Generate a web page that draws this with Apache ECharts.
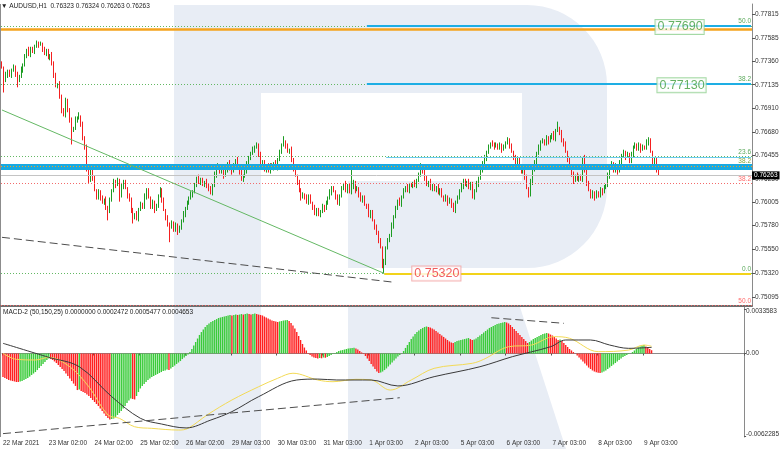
<!DOCTYPE html>
<html><head><meta charset="utf-8">
<script src="https://cdn.jsdelivr.net/npm/echarts@6/dist/echarts.min.js"></script>
<style>html,body{margin:0;padding:0;background:#fff;overflow:hidden}#c{width:782px;height:449px}</style>
</head><body><div id="c"></div>
<script>
// ---------- DATA ----------
const xLabels = ['22 Mar 2021','23 Mar 02:00','24 Mar 02:00','25 Mar 02:00','26 Mar 02:00','29 Mar 03:00','30 Mar 03:00','31 Mar 03:00','1 Apr 03:00','2 Apr 03:00','5 Apr 03:00','6 Apr 03:00','7 Apr 03:00','8 Apr 03:00','9 Apr 03:00'];
const priceTicks = ['0.77815','0.77585','0.77360','0.77135','0.76910','0.76680','0.76455','0.76230','0.76005','0.75780','0.75550','0.75320','0.75095'];
const macdTicks = ['0.0033583','0.00','-0.0062285'];
const titleMain = '\u25BC AUDUSD,H1  0.76323 0.76324 0.76263 0.76263';
const titleMacd = 'MACD-2 (50,150,25) 0.0000000 0.0002472 0.0005477 0.0004653';
// H1 candles, price in pips (price x 10000): [open, close, low, high]
const candlesPips = [
[7734,7730,7729,7736],[7730,7718,7706,7731],[7718,7723,7716,7726],[7723,7726,7720,7728],[7726,7722,7721,7728],[7722,7728,7720,7729],[7728,7730,7726,7733],[7730,7724,7721,7732],[7724,7718,7711,7726],[7718,7722,7716,7723],
[7722,7728,7720,7731],[7728,7732,7725,7734],[7732,7741,7731,7743],[7741,7747,7739,7748],[7747,7743,7741,7750],[7743,7748,7740,7750],[7748,7745,7744,7750],[7745,7751,7743,7752],[7751,7754,7749,7756],[7754,7752,7749,7755],
[7752,7753,7751,7755],[7753,7747,7745,7754],[7747,7744,7742,7750],[7744,7746,7741,7748],[7746,7739,7738,7748],[7739,7742,7737,7743],[7742,7734,7732,7745],[7734,7723,7720,7736],[7723,7712,7711,7725],[7712,7714,7710,7715],
[7714,7702,7700,7717],[7702,7689,7686,7704],[7689,7684,7683,7691],[7684,7697,7682,7701],[7697,7689,7687,7700],[7689,7680,7677,7691],[7680,7670,7656,7682],[7670,7672,7668,7673],[7672,7680,7670,7683],[7680,7681,7677,7683],
[7681,7683,7680,7687],[7683,7675,7673,7684],[7675,7662,7660,7678],[7662,7654,7651,7664],[7654,7631,7630,7656],[7631,7622,7619,7632],[7622,7631,7620,7636],[7631,7624,7621,7633],[7624,7612,7611,7626],[7612,7605,7603,7613],
[7605,7610,7603,7613],[7610,7605,7602,7612],[7605,7600,7599,7607],[7600,7603,7598,7604],[7603,7595,7593,7606],[7595,7591,7583,7597],[7591,7603,7590,7605],[7603,7612,7601,7613],[7612,7620,7610,7623],[7620,7617,7614,7622],
[7617,7622,7616,7624],[7622,7607,7601,7623],[7607,7616,7605,7619],[7616,7620,7613,7622],[7620,7614,7613,7622],[7614,7606,7604,7615],[7606,7603,7601,7609],[7603,7593,7590,7605],[7593,7586,7580,7595],[7586,7589,7584,7590],
[7589,7585,7583,7592],[7585,7593,7582,7595],[7593,7599,7592,7601],[7599,7596,7594,7600],[7596,7606,7594,7609],[7606,7612,7603,7614],[7612,7605,7604,7614],[7605,7596,7594,7606],[7596,7600,7594,7603],[7600,7593,7590,7602],
[7593,7597,7592,7599],[7597,7607,7595,7608],[7607,7612,7605,7615],[7612,7603,7600,7614],[7603,7593,7592,7605],[7593,7585,7583,7594],[7585,7579,7577,7588],[7579,7576,7562,7581],[7576,7581,7575,7583],[7581,7574,7572,7582],
[7574,7578,7572,7581],[7578,7572,7569,7580],[7572,7576,7571,7578],[7576,7583,7574,7584],[7583,7589,7581,7592],[7589,7594,7586,7596],[7594,7600,7593,7602],[7600,7605,7598,7606],[7605,7608,7603,7611],[7608,7610,7605,7612],
[7610,7617,7609,7619],[7617,7624,7615,7625],[7624,7620,7618,7627],[7620,7622,7617,7624],[7622,7617,7616,7624],[7617,7620,7615,7621],[7620,7616,7614,7623],[7616,7614,7611,7618],[7614,7609,7608,7616],[7609,7617,7607,7618],
[7617,7627,7615,7630],[7627,7633,7624,7635],[7633,7636,7632,7638],[7636,7630,7628,7637],[7630,7633,7628,7636],[7633,7626,7623,7635],[7626,7631,7625,7633],[7631,7638,7629,7639],[7638,7633,7631,7641],[7633,7630,7627,7635],
[7630,7636,7629,7638],[7636,7641,7634,7642],[7641,7635,7633,7644],[7635,7630,7627,7637],[7630,7622,7621,7632],[7622,7626,7620,7627],[7626,7631,7624,7634],[7631,7638,7628,7640],[7638,7643,7637,7645],[7643,7648,7641,7649],
[7648,7651,7646,7654],[7651,7653,7648,7655],[7653,7656,7652,7658],[7656,7646,7644,7657],[7646,7636,7634,7649],[7636,7639,7633,7641],[7639,7631,7630,7641],[7631,7635,7629,7636],[7635,7631,7629,7638],[7631,7636,7628,7638],
[7636,7633,7632,7638],[7633,7638,7631,7639],[7638,7634,7632,7641],[7634,7641,7631,7643],[7641,7649,7640,7651],[7649,7656,7647,7657],[7656,7658,7654,7664],[7658,7655,7652,7660],[7655,7649,7648,7657],[7649,7651,7647,7652],
[7651,7641,7639,7654],[7641,7633,7630,7643],[7633,7626,7625,7635],[7626,7619,7617,7627],[7619,7612,7610,7622],[7612,7605,7602,7614],[7605,7608,7604,7610],[7608,7605,7603,7609],[7605,7601,7599,7608],[7601,7606,7598,7608],
[7606,7600,7599,7608],[7600,7595,7593,7601],[7595,7590,7588,7598],[7590,7593,7587,7595],[7593,7588,7587,7595],[7588,7592,7586,7593],[7592,7596,7590,7599],[7596,7594,7591,7598],[7594,7600,7593,7602],[7600,7605,7598,7606],
[7605,7610,7603,7613],[7610,7614,7607,7616],[7614,7611,7610,7616],[7611,7605,7603,7612],[7605,7600,7598,7608],[7600,7606,7597,7608],[7606,7614,7605,7616],[7614,7618,7612,7619],[7618,7612,7610,7621],[7612,7616,7609,7618],
[7616,7610,7609,7618],[7610,7615,7608,7636],[7615,7619,7613,7622],[7619,7612,7609,7621],[7612,7614,7611,7616],[7614,7607,7605,7615],[7607,7603,7601,7610],[7603,7605,7600,7607],[7605,7598,7597,7607],[7598,7596,7594,7599],
[7596,7588,7586,7599],[7588,7591,7585,7593],[7591,7583,7582,7593],[7583,7576,7574,7584],[7576,7571,7569,7579],[7571,7564,7561,7573],[7564,7557,7556,7566],[7557,7541,7537,7558],[7541,7543,7532,7546],[7543,7556,7540,7558],
[7556,7564,7555,7566],[7564,7569,7562,7570],[7569,7578,7567,7581],[7578,7586,7575,7588],[7586,7595,7585,7597],[7595,7602,7593,7603],[7602,7599,7597,7605],[7599,7605,7596,7607],[7605,7612,7604,7614],[7612,7615,7610,7616],
[7615,7612,7610,7618],[7612,7617,7609,7619],[7617,7616,7615,7619],[7616,7619,7614,7620],[7619,7617,7615,7622],[7617,7621,7614,7623],[7621,7627,7620,7629],[7627,7633,7625,7638],[7633,7630,7628,7636],[7630,7624,7621,7632],
[7624,7617,7616,7626],[7617,7620,7615,7621],[7620,7614,7612,7623],[7614,7616,7611,7618],[7616,7612,7611,7618],[7612,7615,7610,7616],[7615,7610,7608,7618],[7610,7612,7607,7614],[7612,7606,7605,7614],[7606,7603,7601,7607],
[7603,7605,7601,7608],[7605,7600,7597,7607],[7600,7603,7599,7605],[7603,7597,7595,7604],[7597,7593,7591,7600],[7593,7600,7590,7602],[7600,7605,7599,7607],[7605,7612,7603,7613],[7612,7616,7610,7619],[7616,7621,7613,7623],
[7621,7617,7616,7623],[7617,7620,7615,7621],[7620,7615,7613,7623],[7615,7618,7612,7620],[7618,7605,7604,7620],[7605,7612,7603,7613],[7612,7618,7610,7621],[7618,7623,7615,7625],[7623,7631,7622,7633],[7631,7639,7629,7640],
[7639,7643,7637,7646],[7643,7648,7640,7650],[7648,7654,7647,7656],[7654,7657,7652,7658],[7657,7656,7654,7660],[7656,7654,7651,7658],[7654,7656,7653,7658],[7656,7653,7651,7657],[7653,7655,7651,7658],[7655,7651,7648,7657],
[7651,7654,7650,7656],[7654,7658,7652,7659],[7658,7660,7656,7663],[7660,7655,7652,7662],[7655,7649,7648,7657],[7649,7643,7641,7650],[7643,7638,7636,7646],[7638,7641,7635,7643],[7641,7633,7632,7643],[7633,7630,7628,7634],
[7630,7633,7628,7636],[7633,7625,7622,7635],[7625,7614,7613,7627],[7614,7608,7605,7615],[7608,7620,7606,7623],[7620,7631,7617,7633],[7631,7639,7630,7641],[7639,7648,7637,7649],[7648,7653,7646,7656],[7653,7658,7650,7660],
[7658,7660,7657,7662],[7660,7657,7655,7661],[7657,7662,7655,7665],[7662,7659,7656,7664],[7659,7663,7658,7665],[7663,7666,7661,7667],[7666,7662,7660,7669],[7662,7669,7659,7671],[7669,7672,7668,7678],[7672,7667,7665,7673],
[7667,7660,7658,7670],[7660,7657,7654,7662],[7657,7649,7648,7659],[7649,7641,7639,7650],[7641,7635,7633,7644],[7635,7628,7625,7637],[7628,7622,7618,7630],[7622,7626,7620,7627],[7626,7623,7621,7629],[7623,7625,7620,7627],
[7625,7622,7621,7627],[7622,7643,7620,7644],[7643,7631,7629,7646],[7631,7619,7616,7633],[7619,7612,7611,7621],[7612,7606,7604,7613],[7606,7609,7604,7612],[7609,7605,7602,7611],[7605,7610,7604,7612],[7610,7607,7605,7611],
[7607,7612,7605,7615],[7612,7610,7607,7614],[7610,7615,7609,7617],[7615,7617,7613,7618],[7617,7626,7615,7629],[7626,7633,7623,7635],[7633,7638,7632,7640],[7638,7631,7629,7639],[7631,7635,7629,7638],[7635,7630,7627,7637],
[7630,7639,7629,7641],[7639,7646,7637,7647],[7646,7648,7644,7651],[7648,7644,7641,7650],[7644,7647,7643,7649],[7647,7640,7638,7648],[7640,7646,7638,7649],[7646,7653,7643,7655],[7653,7656,7652,7658],[7656,7652,7650,7657],
[7652,7655,7650,7658],[7655,7651,7648,7657],[7651,7654,7650,7656],[7654,7653,7651,7655],[7653,7658,7651,7661],[7658,7660,7655,7663],[7660,7649,7648,7662],[7649,7638,7636,7650],[7638,7641,7636,7644],[7641,7632,7629,7643],
[7632.3,7626.3,7626.3,7632.4]
];
// MACD histogram, x 1e-4
const macdHistPips = [
-17.7,-18.5,-19.3,-20.0,-20.4,-20.8,-21.1,-21.5,-21.6,
-21.1,-20.8,-20.0,-19.3,-18.5,-17.4,-16.2,-15.1,-14.0,-12.5,-10.9,-9.4,-7.9,-6.4,-4.9,-3.8,
-4.2,-4.9,-6.0,-7.2,-8.7,-10.2,-11.7,-13.2,-15.1,-17.0,-18.9,-20.8,-22.7,-24.5,-27.6,
-27.2,
-28.3,-29.1,-29.8,-31.0,-32.1,-33.6,-35.1,-36.6,-38.1,-39.6,-41.5,-43.4,-45.3,-47.2,-48.7,-49.8,
-49.5,-49.1,-47.9,-46.4,-44.9,-43.4,-41.5,-39.6,-37.4,-35.5,-34.0,-34.4,-34.7,-32.1,-29.1,-26.4,-24.5,-23.0,-21.5,-20.0,-18.9,-17.7,-17.0,-16.2,-15.5,-14.7,-14.0,-13.2,-12.8,-12.1,-12.5,-11.3,-10.2,-9.1,-7.9,-6.8,-5.7,-4.2,-3.0,-1.9,-0.8,1.1,
3.4,6.0,8.7,11.3,14.0,16.2,18.1,20.0,21.5,22.7,23.8,24.5,25.3,26.0,26.8,27.2,27.6,27.9,28.3,28.7,29.1,
28.7,29.1,29.4,29.1,29.4,29.8,29.4,29.8,30.2,29.8,29.4,29.8,30.2,29.8,29.4,29.1,28.7,
27.9,27.2,26.4,25.7,24.9,24.5,24.2,23.8,
24.2,24.5,24.9,25.1,25.3,
24.5,23.0,21.1,18.9,16.2,13.2,10.2,7.2,4.5,2.3,0.4,
-1.1,-2.3,-3.0,-3.4,-3.8,-3.4,-3.6,-3.0,-3.2,-2.6,-1.9,-1.1,-0.4,
0.4,1.1,1.9,2.3,2.6,3.0,3.4,3.8,4.0,4.2,4.3,3.8,3.0,1.9,0.8,-0.4,
-1.9,-3.8,-5.7,-7.9,-9.8,-11.7,-13.6,-14.7,
-14.3,-13.6,-12.5,-11.3,-9.8,-8.3,-6.8,-5.3,-3.8,-2.3,-1.1,0.1,
1.9,4.2,6.4,8.7,10.9,12.8,14.7,16.2,17.4,18.5,19.3,20.0,20.4,
20.0,19.6,18.9,18.1,17.0,15.9,14.7,13.6,12.5,11.3,10.2,9.1,8.3,7.9,
8.7,9.4,9.8,10.2,10.6,10.9,11.3,11.7,
10.9,10.2,
10.6,11.3,12.5,13.6,14.7,15.9,17.0,18.1,19.3,20.0,20.8,21.5,22.3,22.7,23.0,23.4,23.8,
23.4,22.7,21.5,20.0,18.5,17.0,15.5,14.0,12.5,10.9,9.4,7.9,
8.7,9.8,10.9,11.7,12.5,13.2,14.0,14.7,15.1,15.5,
15.1,14.3,13.6,12.5,11.3,10.2,10.6,9.4,7.9,6.4,4.9,3.4,2.3,1.1,-0.1,
-1.5,-3.0,-4.5,-6.0,-7.6,-9.1,-10.6,-11.7,-12.8,-13.6,-14.2,-14.6,-14.7,
-14.3,-13.6,-12.8,-11.7,-10.6,-9.4,-8.3,-7.2,-6.0,-4.9,-3.8,-2.6,-1.9,-1.1,-0.4,0.1,
1.1,2.3,3.4,4.5,5.3,6.0,6.4,
5.3,4.3,3.4,2.47
];
// MACD lines, [bar, value x 1e-4]
const macdMainPips = [[0,7.7],[24,-2.9],[40,-10.0],[57,-32.6],[72,-48.9],[83,-53.2],[96,-56.2],[109,-50.2],[120,-43.9],[134,-32.6],[154,-20.0],[165,-19.3],[175,-20.0],[193,-20.0],[207,-24.5],[226,-17.5],[250,-10.0],[267,-2.4],[287,5.1],[295,10.2],[308,10.2],[318,6.4],[328,3.9],[340,4.65]];
const macdSignalPips = [[0,0.2],[7,-4.4],[17,-4.9],[24,-2.9],[35,-10.0],[45,-25.1],[55,-46.4],[61,-48.9],[69,-55.3],[78,-56.5],[92,-57.8],[97,-56.5],[107,-46.4],[120,-35.1],[134,-25.1],[144,-18.7],[152,-14.9],[165,-20.0],[173,-21.3],[185,-19.5],[193,-20.0],[203,-27.6],[214,-20.0],[226,-11.2],[246,-7.4],[252,-4.4],[265,5.1],[277,6.4],[289,12.7],[297,11.5],[312,1.4],[328,2.6],[336,6.4],[340,5.48]];
// Levels (price)
const fibLevels = [['50.0',0.77702],['38.2',0.77140],['23.6',0.76443],['38.2',0.76187],['0.0',0.75320],['50.0',0.75010]];
const bandLevel = ['38.2',0.76342];
const orangeLevels = [0.77672];
const orangeDotLevel = 0.76350;
const cyanSegments = [[189,0.77700],[189,0.77140],[199,0.76438]];
const yellowSegment = [198,0.75320];
const lastPrice = ['0.76263',0.76263];
const priceTrend = [[0,0.76892],[198,0.75320]];
const priceDashed = [[0,0.75667],[202,0.75237]];
const macdDashed = [[[0,-0.00605],[208,-0.00334]],[[256,0.00270],[294,0.00228]]];
const priceBoxes = [[351,0.7769,'0.77690'],[352,0.7713,'0.77130'],[225,0.7532,'0.75320']];

// ---------- CHART ----------
const FONT = 'Liberation Sans, Arial, sans-serif';
const N = 389;
const cats = Array.from({length:N},(_,i)=>String(i));
const candles = candlesPips.map(r=>r.map(v=>v/10000));
const hist = macdHistPips.map(v=>v/10000);
const mainLine = macdMainPips.map(p=>[p[0],p[1]/10000]);
const sigLine = macdSignalPips.map(p=>[p[0],p[1]/10000]);
const priceTickValues = priceTicks.map(Number);
const macdTickValues = macdTicks.map(Number);
const isLbl = i => i % 24 === 0 && (i/24) < xLabels.length;
const last = N - 1;

const GREENTXT = '#5aa85a', REDTXT = '#ff6a6a', CYAN = '#1eaee4';
const ml = [];
fibLevels.forEach(([t,v]) => {
  const red = (t==='38.2' && v<0.763) || (t==='50.0' && v<0.76);
  ml.push({yAxis:v, lineStyle:{color: red ? '#f26a6a' : '#63b863', type:[1,2], width:1},
    label:{show:true, position:'insideEndTop', formatter:t, color: red?REDTXT:GREENTXT, fontSize:6.5, fontFamily:FONT, distance:[1,1]}});
});
orangeLevels.forEach(v => ml.push({yAxis:v, lineStyle:{color:'#f5a31c', width:2.5, type:'solid'}}));
ml.push({yAxis:bandLevel[1], lineStyle:{color:'#18a9e1', width:6, type:'solid'},
  label:{show:true, position:'insideEndTop', formatter:bandLevel[0], color:'#86a83c', fontSize:6.5, fontFamily:FONT, distance:[1,2.5]}});
ml.push({yAxis:orangeDotLevel, lineStyle:{color:'#f5a31c', width:1, type:[1,2]}});
cyanSegments.forEach((s,k) => ml.push([{coord:[s[0],s[1]], lineStyle:{color: k===2 ? '#6ccbee' : CYAN, width: k===2 ? 1 : 2, type:'solid'}},{coord:[last,s[1]]}]));
ml.push([{coord:[yellowSegment[0],yellowSegment[1]], lineStyle:{color:'#f2d31a', width:2, type:'solid'}},{coord:[last,yellowSegment[1]]}]);
ml.push({yAxis:lastPrice[1], lineStyle:{color:'#c4c4c4', width:1, type:'solid'},
  label:{show:true, position:'end', formatter:lastPrice[0], backgroundColor:'#000', color:'#fff', padding:[1,2,0,2], fontSize:6.5, fontFamily:FONT, distance:0}});
ml.push([{coord:priceTrend[0], lineStyle:{color:'#64b864', width:1, type:'solid'}},{coord:priceTrend[1]}]);
ml.push([{coord:priceDashed[0], lineStyle:{color:'#4d4d4d', width:1, type:[8,4]}},{coord:priceDashed[1]}]);

const boxColors = [['#3d9e3d','#8fcf8f'],['#3d9e3d','#8fcf8f'],['#ee3535','#f3a0a0']];
const WM = '#e8edf5';

const option = {
  animation:false,
  textStyle:{fontFamily:FONT},
  title:[
    {text:titleMain, left:1, top:2.5, padding:0, textStyle:{fontSize:6.5, fontWeight:'normal', color:'#222', fontFamily:FONT}},
    {text:titleMacd, left:3, top:309, padding:0, textStyle:{fontSize:6.5, fontWeight:'normal', color:'#222', fontFamily:FONT}}
  ],
  graphic:[
    {type:'rect', z:-10, silent:true, shape:{x:174,y:5,width:87,height:444}, style:{fill:WM}},
    {type:'rect', z:-10, silent:true, shape:{x:261,y:5,width:262,height:88}, style:{fill:WM}},
    {type:'rect', z:-10, silent:true, shape:{x:522,y:5,width:85,height:263,r:[0,80,80,0]}, style:{fill:WM}},
    {type:'rect', z:-10, silent:true, shape:{x:348,y:181,width:175,height:87}, style:{fill:WM}},
    {type:'polygon', z:-10, silent:true, shape:{points:[[348,307],[520,307],[566,449],[348,449]]}, style:{fill:WM}},
    {type:'line', z:-5, silent:true, shape:{x1:0.5,y1:4,x2:0.5,y2:437}, style:{stroke:'#8c8c8c', lineWidth:1}}
  ],
  grid:[
    {left:1, right:30, top:4, height:302},
    {left:1, right:30, top:307, height:130}
  ],
  xAxis:[
    {type:'category', gridIndex:0, data:cats, axisLine:{show:true, lineStyle:{color:'#6e6e6e', width:2}}, axisTick:{show:false}, axisLabel:{show:false}, splitLine:{show:false}},
    {type:'category', gridIndex:1, data:cats, axisLine:{show:true, lineStyle:{color:'#8a8a8a', width:1}},
      axisTick:{show:true, interval:(i)=>isLbl(i), length:2, lineStyle:{color:'#555'}},
      axisLabel:{interval:(i)=>isLbl(i), formatter:(v)=>xLabels[Number(v)/24], align:'left', margin:3, fontSize:6.5, color:'#333', fontFamily:FONT},
      splitLine:{show:false}}
  ],
  yAxis:[
    {type:'value', gridIndex:0, position:'right', min:0.750063, max:0.779115,
      axisLine:{show:true, lineStyle:{color:'#8a8a8a'}},
      axisTick:{show:true, customValues:priceTickValues, length:3, lineStyle:{color:'#555'}},
      axisLabel:{customValues:priceTickValues, formatter:(v)=>v.toFixed(5), margin:3, fontSize:6.5, color:'#333', fontFamily:FONT},
      splitLine:{show:false}},
    {type:'value', gridIndex:1, position:'right', min:-0.006304, max:0.003511,
      axisLine:{show:true, lineStyle:{color:'#8a8a8a'}},
      axisTick:{show:true, customValues:macdTickValues, length:2, lineStyle:{color:'#555'}},
      axisLabel:{customValues:macdTickValues, margin:2, fontSize:6.5, color:'#333', fontFamily:FONT,
        formatter:(v)=>{ let k=0; macdTickValues.forEach((t,j)=>{ if (Math.abs(t-v)<Math.abs(macdTickValues[k]-v)) k=j; });
          const s = macdTicks[k]; return k===0 ? '{t|'+s+'}' : (k===2 ? '{b|'+s+'}' : s); },
        rich:{t:{padding:[5,0,0,0], fontSize:6.5, color:'#333', fontFamily:FONT}, b:{padding:[0,0,4,0], fontSize:6.5, color:'#333', fontFamily:FONT}}},
      splitLine:{show:false}}
  ],
  series:[
    {type:'candlestick', xAxisIndex:0, yAxisIndex:0, data:candles, barWidth:1.1, z:2,
      itemStyle:{color:'#1c9c22', color0:'#f42020', borderColor:'#1c9c22', borderColor0:'#f42020', borderWidth:1},
      markLine:{silent:true, precision:6, symbol:['none','none'], animation:false, label:{show:false}, emphasis:{disabled:true}, data:ml}},
    {type:'scatter', xAxisIndex:0, yAxisIndex:0, z:6, symbolSize:1, itemStyle:{color:'rgba(0,0,0,0)'}, silent:true,
      data: priceBoxes.map((b,k)=>({value:[b[0],b[1]], label:{show:true, position:'inside', formatter:b[2], color:boxColors[k][0],
        backgroundColor:'#fff', borderColor:boxColors[k][1], borderWidth:1, padding:[1,1,0,2], fontSize:12.5, lineHeight:13, fontFamily:FONT}}))},
    {type:'bar', xAxisIndex:1, yAxisIndex:1, data:hist, barWidth:1.4, z:2, silent:true,
      itemStyle:{color:(p)=>{ const i=p.dataIndex; return (i>0 && hist[i]>=hist[i-1]) ? '#3acb3a' : '#ff2020'; }},
      markLine:{silent:true, precision:8, symbol:['none','none'], animation:false, label:{show:false}, emphasis:{disabled:true},
        data: macdDashed.map(d=>[{coord:d[0], lineStyle:{color:'#4d4d4d', width:1, type:[8,4]}},{coord:d[1]}])}},
    {type:'line', xAxisIndex:1, yAxisIndex:1, data:sigLine, smooth:0.35, showSymbol:false, symbol:'none', z:3, silent:true,
      lineStyle:{color:'#f3da55', width:1}},
    {type:'line', xAxisIndex:1, yAxisIndex:1, data:mainLine, smooth:0.35, showSymbol:false, symbol:'none', z:4, silent:true,
      lineStyle:{color:'#3a3a3a', width:1}}
  ]
};
const chart = echarts.init(document.getElementById('c'), null, {renderer:'canvas'});
chart.setOption(option);
</script>
</body></html>
